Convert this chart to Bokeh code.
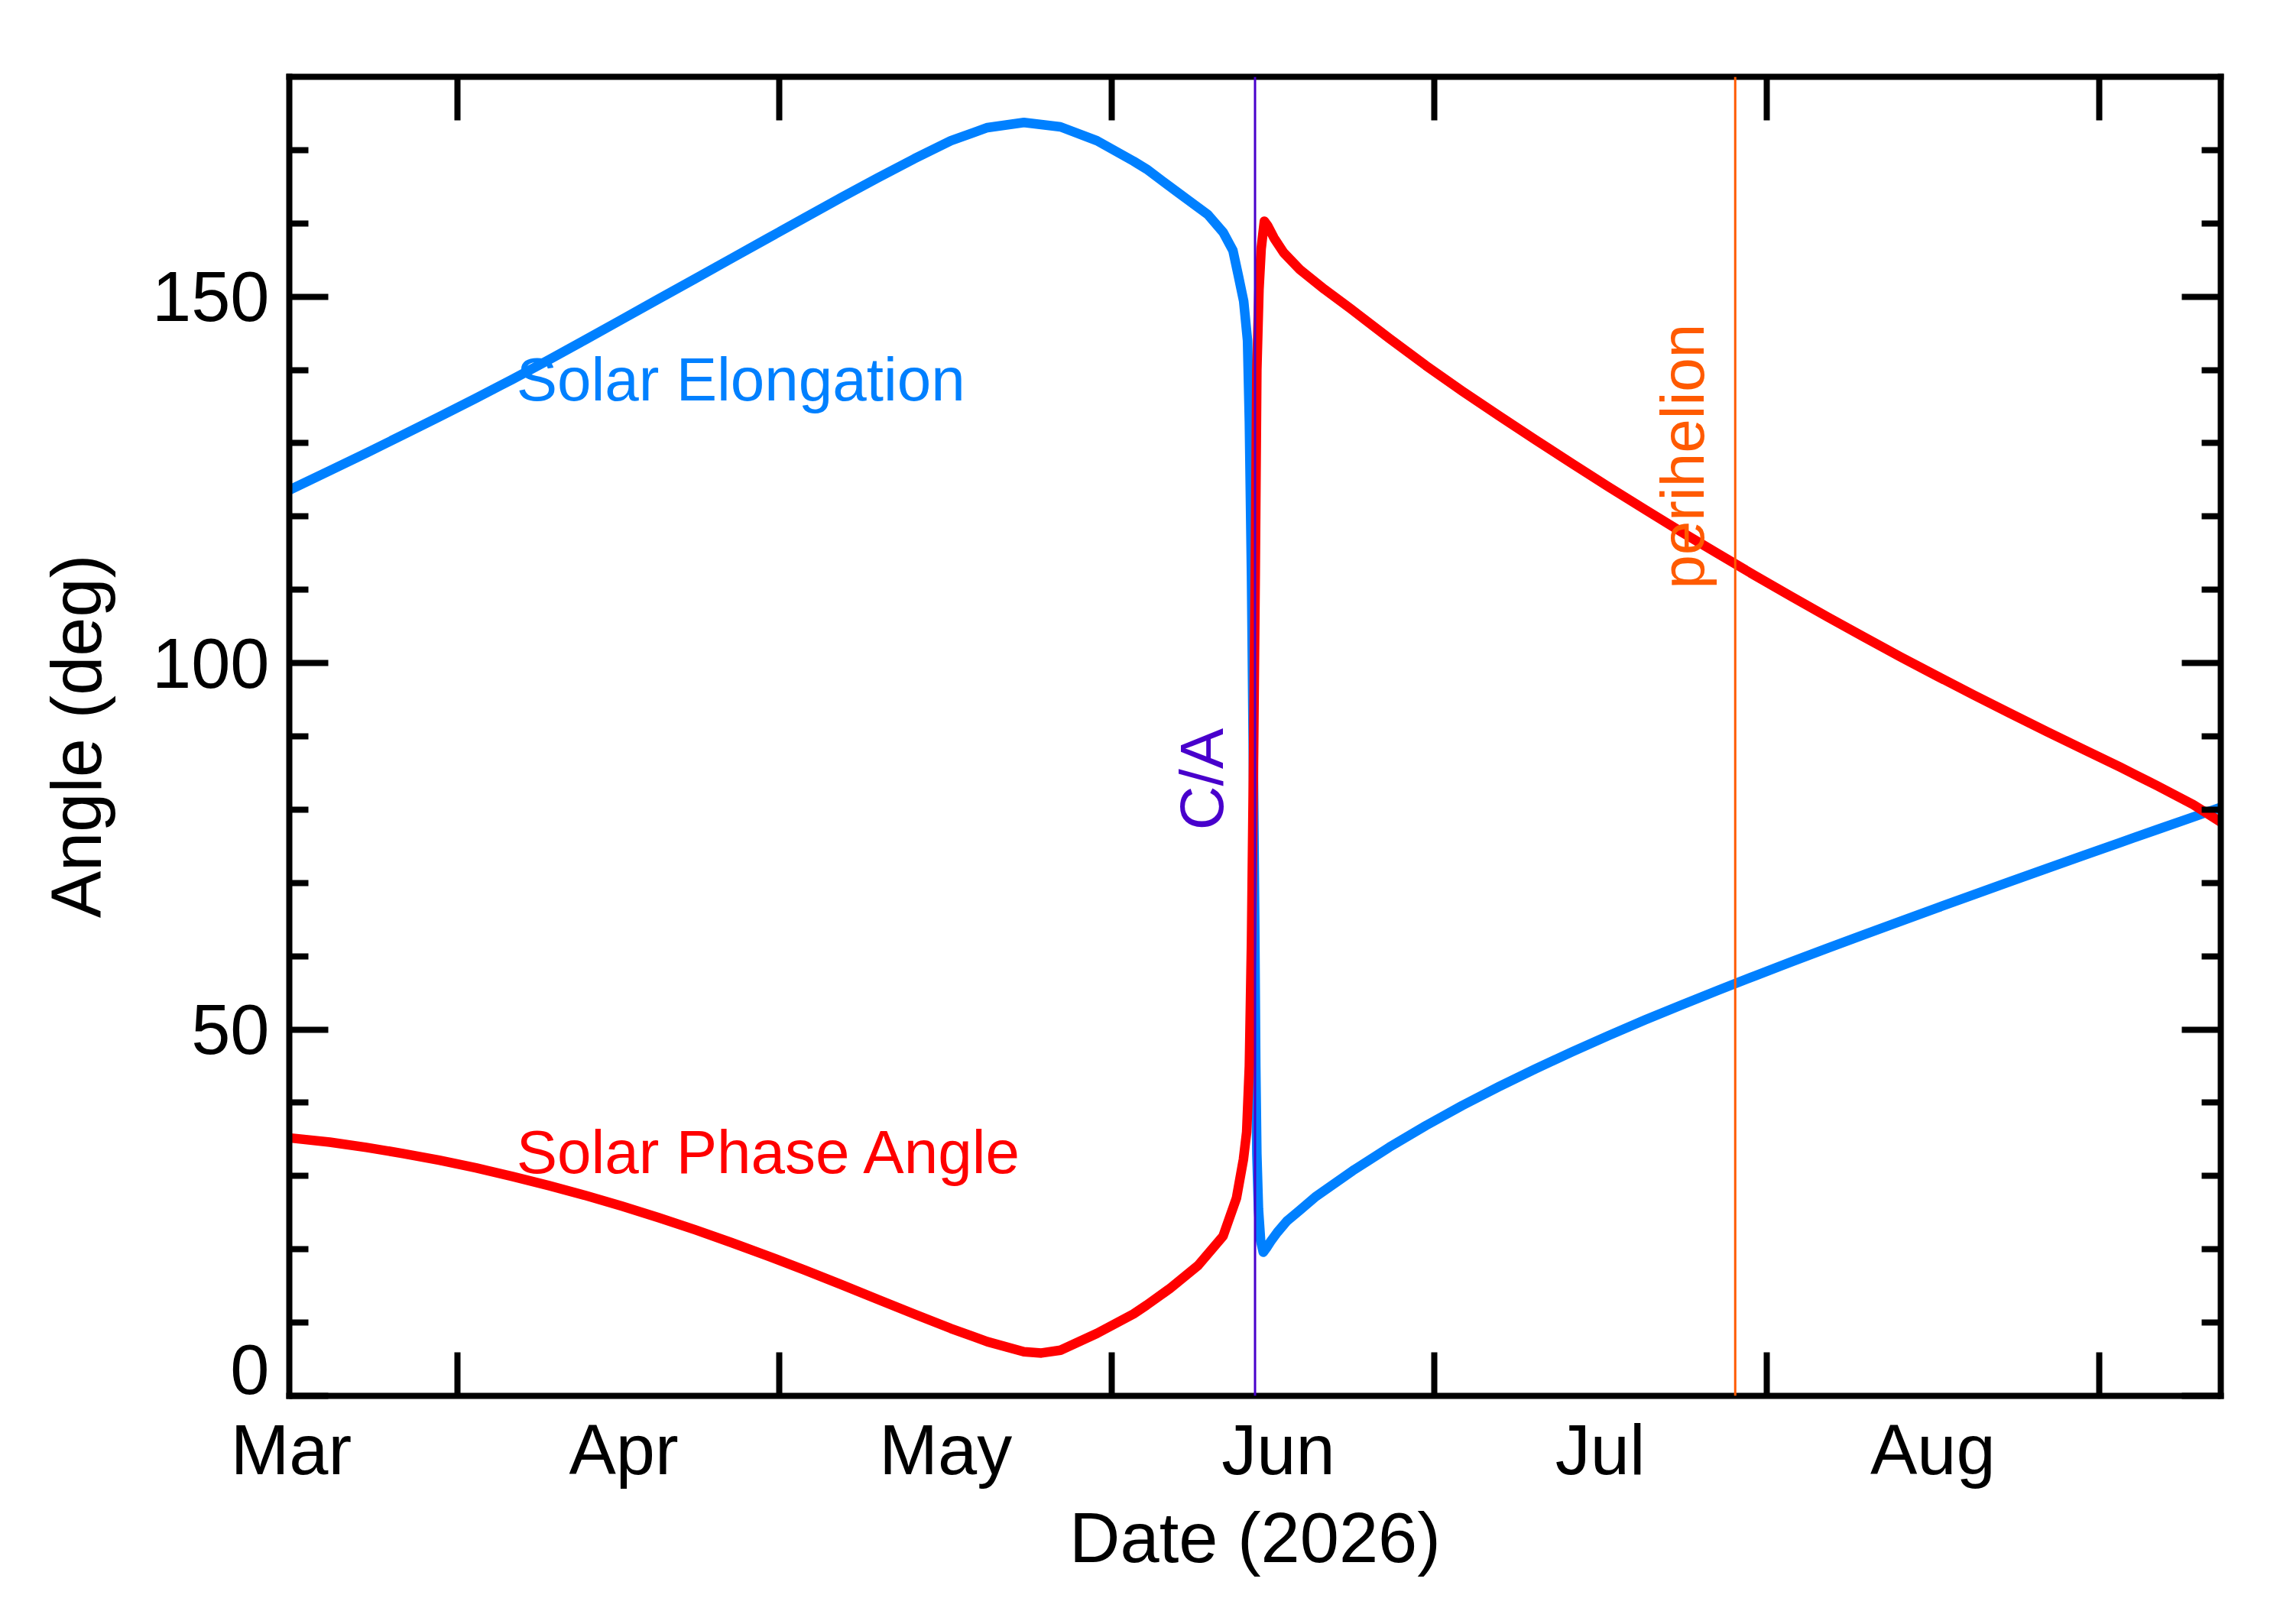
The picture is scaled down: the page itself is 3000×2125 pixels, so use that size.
import math

from bokeh.core.properties import value
from bokeh.embed import file_html
from bokeh.models import FixedTicker, LinearAxis, Range1d, Span
from bokeh.plotting import figure
from bokeh.resources import INLINE

# Time axis: days counted from 2026-03-01 00:00
ca_day = 105.33          # close approach (Jun 14)
perihelion_day = 150.08  # perihelion (Jul 29)
window_days = 90.0       # plotted span on each side of close approach

# month boundaries (minor ticks) and month names (placed mid-month)
month_start_days = [31, 61, 92, 122, 153, 184]
month_label_days = [15.5, 46.5, 76.5, 107.5, 137.5, 168.5]
month_labels = ["Mar", "Apr", "May", "Jun", "Jul", "Aug"]

angle_major_ticks = [0, 50, 100, 150]
angle_minor_ticks = [10, 20, 30, 40, 60, 70, 80, 90, 110, 120, 130, 140, 160, 170]

# Solar elongation (deg)
elong_day = [15.33, 19.10, 22.50, 25.91, 29.31, 32.72, 36.12, 39.53, 42.93, 46.34,
             49.74, 53.15, 56.55, 59.96, 63.36, 66.77, 70.17, 73.58, 76.98, 80.39,
             83.79, 87.20, 90.60, 94.01, 95.23, 97.41, 100.93, 102.35, 103.27, 103.77,
             104.27, 104.63, 104.8, 105.0, 105.15, 105.3, 105.4, 105.5, 105.65, 105.85,
             106.1, 106.4, 106.8, 107.4, 108.3, 109.47, 111.03, 114.44, 117.84, 121.25,
             124.65, 128.06, 131.46, 134.87, 138.27, 141.68, 145.08, 148.49, 151.89, 155.30,
             158.70, 162.11, 165.51, 168.92, 172.32, 175.73, 179.13, 182.54, 185.94, 189.35,
             192.75, 195.33]
elong_deg = [123.60, 126.25, 128.66, 131.12, 133.61, 136.14, 138.72, 141.39, 144.13, 146.90,
             149.67, 152.45, 155.22, 157.99, 160.76, 163.52, 166.21, 168.82, 171.28, 173.07,
             173.77, 173.17, 171.28, 168.49, 167.4, 165.0, 161.2, 158.8, 156.3, 152.9,
             149.4, 144.0, 133.0, 112.0, 90.0, 65.0, 45.0, 33.0, 25.5, 21.2,
             19.6, 20.2, 21.1, 22.3, 23.85, 25.3, 27.24, 30.73, 33.92, 36.88,
             39.63, 42.20, 44.63, 46.95, 49.16, 51.30, 53.35, 55.35, 57.30, 59.22,
             61.09, 62.95, 64.78, 66.60, 68.40, 70.19, 71.97, 73.74, 75.50, 77.25,
             78.99, 80.31]

# Solar phase angle (deg)
phase_day = [15.33, 19.10, 22.50, 25.91, 29.31, 32.72, 36.12, 39.53, 42.93, 46.34,
             49.74, 53.15, 56.55, 59.96, 63.36, 66.77, 70.17, 73.58, 76.98, 80.39,
             83.79, 85.42, 87.20, 90.60, 94.01, 95.23, 97.41, 100.0, 102.35, 103.6,
             104.25, 104.55, 104.8, 105.0, 105.2, 105.35, 105.5, 105.7, 105.9, 106.2,
             106.5, 107.1, 108.0, 109.5, 111.8, 114.2, 117.84, 121.25, 124.65, 128.06,
             131.46, 134.87, 138.27, 141.68, 145.08, 148.49, 151.89, 155.30, 158.70, 162.11,
             165.51, 168.92, 172.32, 175.73, 179.13, 182.54, 185.94, 189.35, 192.75, 195.33]
phase_deg = [35.21, 34.62, 33.90, 33.08, 32.15, 31.11, 29.95, 28.69, 27.34, 25.88,
             24.32, 22.67, 20.91, 19.08, 17.17, 15.19, 13.17, 11.16, 9.20, 7.39,
             6.03, 5.85, 6.23, 8.52, 11.18, 12.38, 14.67, 17.76, 21.8, 27.0,
             32.3, 36.0, 45.0, 62.0, 88.0, 112.0, 140.0, 151.0, 156.5, 160.3,
             159.7, 158.0, 156.0, 153.7, 151.0, 148.4, 144.3, 140.6, 137.10, 133.75,
             130.46, 127.23, 124.06, 120.94, 117.89, 114.90, 111.97, 109.09, 106.28, 103.53,
             100.83, 98.20, 95.63, 93.11, 90.64, 88.21, 85.81, 83.30, 80.70, 78.30]

FONT = "Liberation Sans"
BLUE = "#0080ff"
RED = "#ff0000"
CA_COLOR = "#4800cc"
PERI_COLOR = "#ff5a00"

x_start = ca_day - window_days
x_end = ca_day + window_days

p = figure(
    width=3000, height=2125,
    output_backend="svg", toolbar_location=None,
    x_range=Range1d(x_start, x_end), y_range=Range1d(0, 180),
    min_border_left=378, min_border_right=95,
    min_border_top=100, min_border_bottom=299,
    background_fill_color="white", border_fill_color="white",
)
p.outline_line_color = None
p.grid.grid_line_color = None

x_ticker = FixedTicker(ticks=month_label_days, minor_ticks=month_start_days)
y_ticker = FixedTicker(ticks=angle_major_ticks, minor_ticks=angle_minor_ticks)


def frame_axis(ax, tick_len_major, tick_len_minor):
    ax.axis_line_color = "black"
    ax.axis_line_width = 8
    ax.axis_line_cap = "square"
    ax.major_tick_line_color = "black"
    ax.major_tick_line_width = 8
    ax.minor_tick_line_color = "black"
    ax.minor_tick_line_width = 8
    ax.major_tick_in = tick_len_major
    ax.major_tick_out = 0
    ax.minor_tick_in = tick_len_minor
    ax.minor_tick_out = 0
    ax.major_label_text_font = FONT
    ax.major_label_text_color = "black"
    ax.axis_label_text_font = FONT
    ax.axis_label_text_font_style = "normal"
    ax.axis_label_text_color = "black"


# bottom: month names at mid-month, tick marks at month boundaries
xb = p.xaxis[0]
xb.ticker = x_ticker
frame_axis(xb, 0, 57)
xb.major_label_overrides = {d: m for d, m in zip(month_label_days, month_labels)}
xb.major_label_text_font_size = "92px"
xb.major_label_standoff = 19
xb.axis_label = "Date (2026)"
xb.axis_label_text_font_size = "92px"
xb.axis_label_standoff = 10

# left: angle scale; the zero label is lifted so it rests on the bottom edge
yl = p.yaxis[0]
yl.ticker = y_ticker
frame_axis(yl, 51, 25)
yl.major_label_overrides = {t: (str(t) + "\n " if t == 0 else str(t)) for t in angle_major_ticks}
yl.major_label_text_line_height = 0.67
yl.major_label_text_font_size = "92px"
yl.major_label_standoff = 26
yl.axis_label = "Angle (deg)"
yl.axis_label_text_font_size = "92px"
yl.axis_label_standoff = 45

# mirrored tick marks on top and right
xt = LinearAxis(ticker=x_ticker)
frame_axis(xt, 0, 57)
xt.major_label_text_font_size = "0px"
xt.major_label_standoff = 0
xt.major_label_overrides = {d: "" for d in month_label_days}
p.add_layout(xt, "above")

yr = LinearAxis(ticker=y_ticker)
frame_axis(yr, 51, 25)
yr.major_label_text_font_size = "0px"
yr.major_label_standoff = 0
yr.major_label_overrides = {t: "" for t in angle_major_ticks}
p.add_layout(yr, "right")

# curves
p.line(elong_day, elong_deg, line_color=BLUE, line_width=12.5, line_join="round")
p.line(phase_day, phase_deg, line_color=RED, line_width=12.5, line_join="round")

# event markers
p.add_layout(Span(location=ca_day, dimension="height", line_color=CA_COLOR, line_width=3))
p.add_layout(Span(location=perihelion_day, dimension="height", line_color=PERI_COLOR, line_width=3))

# curve names
p.text(x=[36.5], y=[138.7], text=["Solar Elongation"], text_color=BLUE,
       text_font=value(FONT), text_font_size="80px",
       text_align="left", text_baseline="alphabetic")
p.text(x=[36.5], y=[33.25], text=["Solar Phase Angle"], text_color=RED,
       text_font=value(FONT), text_font_size="80px",
       text_align="left", text_baseline="alphabetic")

# event labels, rotated along the marker lines
p.text(x=[ca_day], y=[77.2], text=["C/A"], text_color=CA_COLOR, x_offset=-70,
       angle=math.pi / 2, text_font=value(FONT), text_font_size="80px",
       text_align="left", text_baseline="alphabetic")
p.text(x=[perihelion_day], y=[110.1], text=["perihelion"], text_color=PERI_COLOR, x_offset=-69,
       angle=math.pi / 2, text_font=value(FONT), text_font_size="80px",
       text_align="left", text_baseline="alphabetic")

open("out.html", "w").write(file_html(p, INLINE))
